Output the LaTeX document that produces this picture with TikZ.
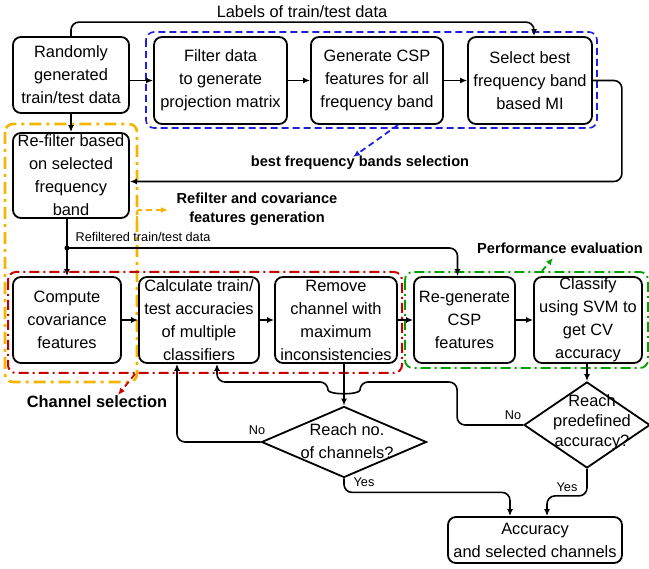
\documentclass[tikz,border=0pt]{standalone}
\usepackage{fontspec}
\setmainfont{Liberation Sans}
\usetikzlibrary{shapes.geometric,arrows.meta}

\definecolor{selblue}{RGB}{30,30,220}
\definecolor{refyellow}{RGB}{245,180,0}
\definecolor{chred}{RGB}{200,0,0}
\definecolor{perfgreen}{RGB}{0,160,0}

\tikzset{
    box/.style={draw, line width=1.8pt, rounded corners=8pt, align=center, inner sep=0pt, font=\fontsize{16.4}{23}\selectfont},
    dia/.style={draw, diamond, line width=1.8pt, inner sep=0pt},
    txt/.style={align=center, inner sep=0pt, font=\fontsize{16.4}{23}\selectfont},
    note/.style={align=center, inner sep=0pt, font=\bfseries\fontsize{14.6}{19}\selectfont},
    small/.style={inner sep=0pt, font=\fontsize{12.7}{15}\selectfont},
    arr/.style={-{Latex[length=7pt,width=6pt]}, line width=1.6pt},
    hint/.style={-{Latex[length=7pt,width=6pt]}, line width=1.8pt, dash pattern=on 6pt off 4pt}
}

\begin{document}
\begin{tikzpicture}[x=1pt, y=-1pt]
        \useasboundingbox (0,0) rectangle (649,569);

        % Group frames
        \draw[selblue, line width=1.6pt, dash pattern=on 7pt off 4pt, rounded corners=8pt] (146,32) rectangle (597,128);
        \draw[refyellow, line width=2.6pt, dash pattern=on 12pt off 5pt on 3pt off 5pt, rounded corners=8pt] (5,124) rectangle (137,382);
        \draw[chred, line width=2pt, dash pattern=on 10pt off 4pt on 2pt off 4pt, rounded corners=8pt] (8,272) rectangle (402,373);
        \draw[perfgreen, line width=1.8pt, dash pattern=on 10pt off 4pt on 2pt off 4pt, rounded corners=8pt] (405,272) rectangle (648,368);

        % Top row
        \node[box, minimum width=116pt, minimum height=76pt] (rand) at (71,75) {Randomly\\generated\\train/test data};
        \node[box, minimum width=133pt, minimum height=87pt] (filt) at (220.5,80.5) {Filter data\\to generate\\projection matrix};
        \node[box, minimum width=132pt, minimum height=87pt] (gen) at (377,80.5) {Generate CSP\\features for all\\frequency band};
        \node[box, minimum width=124pt, minimum height=87pt] (sel) at (530,80.5) {Select best\\frequency band\\based MI};

        % Re-filter
        \node[box, minimum width=116pt, minimum height=85pt] (refil) at (71,175.5) {Re-filter based\\on selected\\frequency\\band};

        % Channel selection row
        \node[box, minimum width=108pt, minimum height=86pt] (comp) at (67,320) {Compute\\covariance\\features};
        \node[box, minimum width=120pt, minimum height=86pt] (calc) at (199,320) {Calculate train/\\test accuracies\\of multiple\\classifiers};
        \node[box, minimum width=122pt, minimum height=86pt] (remo) at (336,320) {Remove\\channel with\\maximum\\inconsistencies};

        % Performance row
        \node[box, minimum width=101pt, minimum height=86pt] (regen) at (464.5,320) {Re-generate\\CSP\\features};
        \node[box, minimum width=108pt, minimum height=86pt] (clas) at (588,320) {Classify\\using SVM to\\get CV\\accuracy};

        % Decisions
        \node[dia, minimum width=165pt, minimum height=71pt] (dia1) at (344,442) {};
        \node[txt] (dia1txt) at (347,441) {Reach no.\\of channels?};
        \node[dia, minimum width=126pt, minimum height=86pt] (dia2) at (587,425) {};
        \node[txt, font=\fontsize{16.4}{20}\selectfont] (dia2txt) at (592,422) {Reach\\predefined\\accuracy?};

        % Result
        \node[box, minimum width=174pt, minimum height=46pt] (acc) at (535,540) {Accuracy\\and selected channels};

        % Arrows
        \draw[arr, rounded corners=8pt] (rand.north) -- ++(0,-14) -| ([xshift=4pt]sel.north);
        \draw[arr] (rand.east |- filt.west) -- (filt.west);
        \draw[arr] (filt.east) -- (gen.west);
        \draw[arr] (gen.east) -- (sel.west);
        \draw[arr, rounded corners=8pt] (sel.east) -- ++(29,0) |- ([yshift=-6pt]refil.east);
        \draw[arr] (rand.south) -- (refil.north);

        \coordinate (split) at (refil.south |- 0,248);
        \draw[arr] (refil.south -| comp.north) -- (comp.north);
        \fill (split -| comp.north) circle (2.6);
        \draw[arr, rounded corners=8pt] (split -| comp.north) -| ([xshift=-7pt]regen.north);

        \draw[arr] (comp.east) -- (calc.west);
        \draw[arr] (calc.east) -- (remo.west);
        \draw[arr] (remo.east) -- (regen.west);
        \draw[arr] (regen.east) -- (clas.west);

        \draw[arr] (dia1.north |- remo.south) -- (dia1.north);
        \draw[arr] (clas.south -| dia2.north) -- (dia2.north);

        % Loops back
        \coordinate (hopR) at (360,382);
        \coordinate (hopL) at (328,382);
        \draw[arr, rounded corners=8pt] (dia2.west) -- ++(-66,0) |- (hopR)
            .. controls (360,395) and (328,395) .. (hopL) -| ([xshift=18pt]calc.south);
        \draw[arr, rounded corners=8pt] (dia1.west) -| ([xshift=-22pt]calc.south);

        \draw[arr, rounded corners=8pt] (dia1.south) -- ++(0,14) -| ([xshift=-25pt]acc.north);
        \draw[arr, rounded corners=8pt] (dia2.south) -- ++(0,27) -| ([xshift=12pt]acc.north);

        % Group hints
        \draw[hint, selblue] (398,125) -- (353,157);
        \draw[hint, refyellow, rounded corners=2pt] (137,222) |- (168,210);
        \draw[hint, chred] (135,374) -- (118,395);
        \draw[hint, perfgreen] (542,271) -- (553,258);

        % Labels
        \node[txt] (lbltop) at (302,12) {Labels of train/test data};
        \node[note] (lblbest) at (360,163) {best frequency bands selection};
        \node[note] (lblrefil) at (257,209) {Refilter and covariance\\features generation};
        \node[small] (lblrefdata) at (143,237) {Refiltered train/test data};
        \node[note] (lblperf) at (560,248) {Performance evaluation};
        \node[note, font=\bfseries\fontsize{16.4}{20}\selectfont] (lblchan) at (97,402) {Channel selection};
        \node[small] (no1) at (257,430) {No};
        \node[small] (yes1) at (364,482) {Yes};
        \node[small] (no2) at (513,415) {No};
        \node[small] (yes2) at (567,487) {Yes};
    \end{tikzpicture}
\end{document}
